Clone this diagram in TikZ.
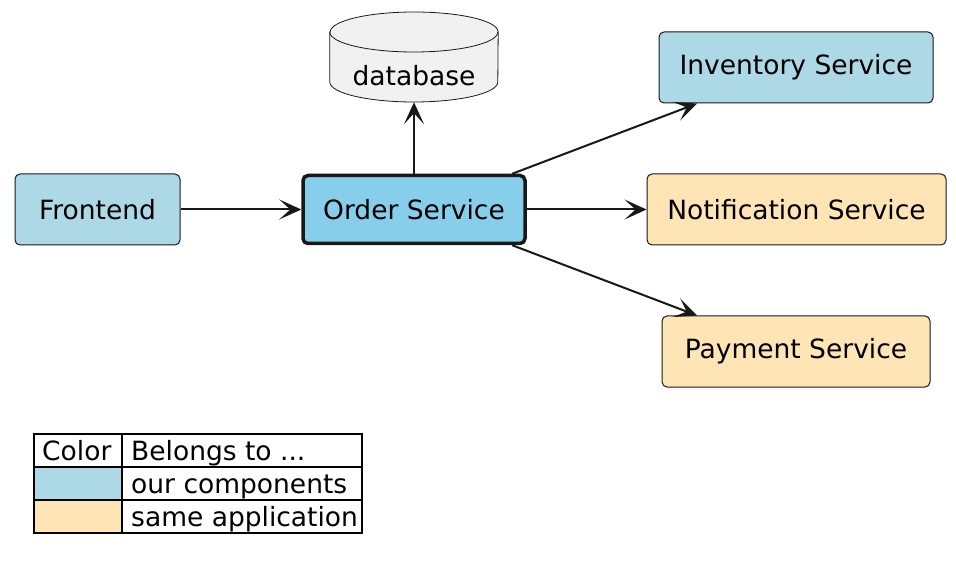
\documentclass[tikz,border=0pt]{standalone}
\usepackage{fontspec}
\setmainfont{DejaVu Sans}
\usetikzlibrary{arrows.meta}
\definecolor{lb}{HTML}{ADD8E6}
\definecolor{sky}{HTML}{87CEEB}
\definecolor{moc}{HTML}{FFE4B5}
\definecolor{dbfill}{HTML}{F1F1F1}
\definecolor{edge}{HTML}{181818}
\begin{document}
\begin{tikzpicture}[x=1pt,y=-1pt,
  font=\fontsize{26.5}{32}\selectfont,
  comp/.style={draw=edge, line width=1pt, rounded corners=5pt, inner sep=0pt, minimum height=71pt},
  conn/.style={draw=edge, line width=2pt, -{Stealth[length=22pt,width=20pt,inset=11pt]}},
  cell/.style={draw=black, line width=2pt, inner sep=0pt, minimum height=33pt},
  ltext/.style={anchor=base west, inner sep=0pt}]
\useasboundingbox (0,0) rectangle (956,585);
% nodes
\node[comp, fill=lb, minimum width=165pt] (fe) at (97.5,209.5) {Frontend};
\node[comp, fill=sky, draw=edge, line width=3.5pt, minimum width=222pt, minimum height=68pt] (os) at (414,209.5) {Order Service};
\node[comp, fill=lb, minimum width=274pt] (inv) at (796,67.5) {Inventory Service};
\node[comp, fill=moc, minimum width=299pt] (note) at (796.5,209.5) {Notification Service};
\node[comp, fill=moc, minimum width=268pt] (pay) at (796,351.5) {Payment Service};
% database cylinder
\node[minimum width=168pt, minimum height=90pt, inner sep=0pt] (db) at (414,57) {};
\filldraw[draw=edge, fill=dbfill, line width=0.8pt]
  (db.west |- 0,32) -- (db.west |- 0,82) arc[start angle=180, end angle=360, x radius=84pt, y radius=20pt]
  -- (db.east |- 0,32) arc[start angle=0, end angle=180, x radius=84pt, y radius=20pt] -- cycle;
\draw[draw=edge, line width=0.8pt] (db.west |- 0,32) arc[start angle=180, end angle=360, x radius=84pt, y radius=20pt];
\node[inner sep=0pt] (dbt) at (414,76) {database};
% connectors
\draw[conn] (fe.east) -- (os.west);
\draw[conn] (os.north) -- (db.south);
\draw[conn] (os.20) -- (inv.200);
\draw[conn] (os.east) -- (note.west);
\draw[conn] (os.-20) -- (pay.160);
% legend
\node[cell, minimum width=88pt] (c11) at (78,450.5) {};
\node[cell, minimum width=240pt] (c12) at (242,450.5) {};
\node[cell, fill=lb, minimum width=88pt] (c21) at (78,483.5) {};
\node[cell, minimum width=240pt] (c22) at (242,483.5) {};
\node[cell, fill=moc, minimum width=88pt] (c31) at (78,516.5) {};
\node[cell, minimum width=240pt] (c32) at (242,516.5) {};
\node[ltext] (t11) at (42,460) {Color};
\node[ltext] (t12) at (131,460) {Belongs to ...};
\node[ltext] (t22) at (131,493) {our components};
\node[ltext] (t32) at (131,526) {same application};
\end{tikzpicture}
\end{document}
